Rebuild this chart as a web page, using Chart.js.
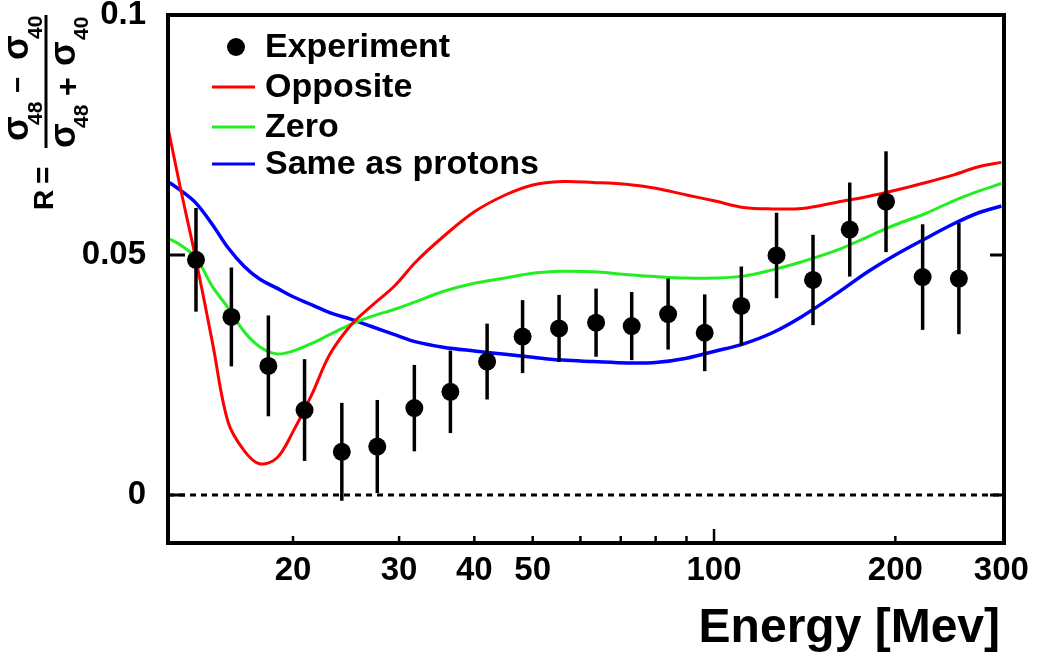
<!DOCTYPE html>
<html>
<head>
<meta charset="utf-8">
<script src="https://cdn.jsdelivr.net/npm/chart.js@4"></script>
<style>
  html, body { margin: 0; padding: 0; background: #fff; }
</style>
</head>
<body>
<canvas id="ratioChart" width="1037" height="658"></canvas>
<script>
// axis range
const xMin = 12.4;
const xMax = 303;
const yMin = -0.01;
const yMax = 0.1;
const xTickValues = [20, 30, 40, 50, 60, 70, 80, 90, 100, 200, 300];
const xTickLabels = { 20: "20", 30: "30", 40: "40", 50: "50", 100: "100", 200: "200", 300: "300" };
const yTickValues = [0, 0.05, 0.1];

// experiment points
const expEnergy = [13.8, 15.8, 18.2, 20.9, 24.1, 27.6, 31.8, 36.5, 42.0, 48.1, 55.3,
  63.7, 73.0, 83.9, 96.5, 111, 127, 146, 168, 193, 222, 255];
const expR = [0.049, 0.0371, 0.0269, 0.0177, 0.0090, 0.0101, 0.0181, 0.0215, 0.0278, 0.0330, 0.0347,
  0.0359, 0.0352, 0.0377, 0.0338, 0.0394, 0.0499, 0.0448, 0.0553, 0.0611, 0.0454, 0.0451];
const expErr = [0.0108, 0.0103, 0.0105, 0.0106, 0.0102, 0.0097, 0.009, 0.0086, 0.0079, 0.0076, 0.007,
  0.0071, 0.0071, 0.0074, 0.008, 0.0082, 0.0089, 0.0094, 0.0098, 0.0105, 0.011, 0.0116];

// model curves
const curveEnergy = [12.4, 13, 13.8, 14.7, 15.6, 16.6, 17.6, 18.8, 20, 21.5, 23, 25, 27, 29.5, 32, 35.5,
  40, 45, 50, 56, 63, 72, 80, 90, 100, 112, 125, 140, 160, 180, 200, 225, 250, 275, 300];
const opposite = [0.0765, 0.064, 0.049, 0.0317, 0.0152, 0.0092, 0.0065, 0.0077, 0.0132, 0.021, 0.0292,
  0.0355, 0.0394, 0.0436, 0.0486, 0.0538, 0.059, 0.0625, 0.0646, 0.0653, 0.0651, 0.0647, 0.0639,
  0.0625, 0.0613, 0.0599, 0.0596, 0.0597, 0.061, 0.0622, 0.0635, 0.0651, 0.0667, 0.0684, 0.0693];
const zero = [0.0535, 0.0521, 0.0494, 0.0434, 0.039, 0.034, 0.0309, 0.0294, 0.0300, 0.0316, 0.0334,
  0.0356, 0.0372, 0.0387, 0.0403, 0.0424, 0.0441, 0.0452, 0.0462, 0.0466, 0.0465, 0.0459, 0.0455,
  0.0452, 0.0452, 0.0456, 0.0469, 0.0486, 0.051, 0.0538, 0.0563, 0.0587, 0.0613, 0.0633, 0.0649];
const sameAsProtons = [0.0653, 0.0635, 0.0608, 0.0563, 0.0515, 0.0476, 0.0450, 0.0431, 0.0413, 0.0396,
  0.038, 0.0366, 0.0351, 0.0334, 0.0319, 0.0308, 0.03, 0.0293, 0.0287, 0.0281, 0.0278, 0.0275, 0.0276,
  0.0285, 0.0299, 0.0315, 0.0338, 0.0372, 0.042, 0.0465, 0.05, 0.0535, 0.0565, 0.0588, 0.0602];

const FONT = '"Liberation Sans", Arial, sans-serif';

function pts(xs, ys) {
  return xs.map((x, i) => ({ x: x, y: ys[i] }));
}

const errorBars = {
  id: "errorBars",
  afterDatasetsDraw(chart) {
    const ctx = chart.ctx;
    const xs = chart.scales.x, ys = chart.scales.y;
    ctx.save();
    ctx.strokeStyle = "#000";
    ctx.lineWidth = 3.5;
    expEnergy.forEach((e, i) => {
      const px = xs.getPixelForValue(e);
      ctx.beginPath();
      ctx.moveTo(px, ys.getPixelForValue(expR[i] - expErr[i]));
      ctx.lineTo(px, ys.getPixelForValue(expR[i] + expErr[i]));
      ctx.stroke();
    });
    ctx.restore();
  }
};

const frameAndText = {
  id: "frameAndText",
  afterDraw(chart) {
    const ctx = chart.ctx;
    const a = chart.chartArea;
    const xs = chart.scales.x, ys = chart.scales.y;
    ctx.save();
    ctx.strokeStyle = "#000";

    // inward ticks
    ctx.lineWidth = 2.5;
    xTickValues.forEach(v => {
      if (v >= 300) return;
      const px = xs.getPixelForValue(v);
      const len = v === 100 ? 14 : 7;
      ctx.beginPath();
      ctx.moveTo(px, a.bottom);
      ctx.lineTo(px, a.bottom - len);
      ctx.stroke();
    });
    ctx.lineWidth = 3;
    [0, 0.05].forEach(v => {
      const py = ys.getPixelForValue(v);
      ctx.beginPath();
      ctx.moveTo(a.left, py);
      ctx.lineTo(a.left + 17, py);
      ctx.moveTo(a.right, py);
      ctx.lineTo(a.right - 14, py);
      ctx.stroke();
    });

    // frame
    ctx.lineWidth = 4;
    ctx.strokeRect(a.left, a.top, a.right - a.left, a.bottom - a.top);

    // x title
    ctx.fillStyle = "#000";
    ctx.font = "bold 48px " + FONT;
    ctx.textAlign = "right";
    ctx.textBaseline = "alphabetic";
    ctx.fillText("Energy [Mev]", 1000, 642);

    // y title, rotated fraction
    ctx.translate(46, 215);
    ctx.rotate(-Math.PI / 2);
    ctx.textAlign = "left";
    ctx.font = "bold 28px " + FONT;
    ctx.fillText("R", 5, 7);
    ctx.font = "bold 30px " + FONT;
    ctx.fillText("=", 31, 7);
    const big = "bold 36px " + FONT, sub = "bold 21px " + FONT;
    // numerator
    ctx.font = big; ctx.fillText("σ", 74, -18);
    ctx.font = sub; ctx.fillText("48", 90, -4);
    ctx.font = "bold 28px " + FONT; ctx.fillText("−", 122, -19);
    ctx.font = big; ctx.fillText("σ", 155, -18);
    ctx.font = sub; ctx.fillText("40", 176, -4);
    // bar
    ctx.lineWidth = 3;
    ctx.beginPath();
    ctx.moveTo(67, 0);
    ctx.lineTo(200, 0);
    ctx.stroke();
    // denominator
    ctx.font = big; ctx.fillText("σ", 67, 29);
    ctx.font = sub; ctx.fillText("48", 87, 42);
    ctx.font = "bold 32px " + FONT; ctx.fillText("+", 119, 32);
    ctx.font = big; ctx.fillText("σ", 149, 29);
    ctx.font = sub; ctx.fillText("40", 175, 42);
    ctx.restore();

    // legend
    ctx.save();
    ctx.font = "bold 34px " + FONT;
    ctx.textBaseline = "middle";
    ctx.fillStyle = "#000";
    const rows = [47, 87, 127, 164];
    chart.data.datasets.filter(d => d.label).forEach((d, i) => {
      const y = rows[i];
      if (d.showLine === false) {
        ctx.beginPath();
        ctx.arc(236, y, 9, 0, Math.PI * 2);
        ctx.fillStyle = d.backgroundColor;
        ctx.fill();
      } else {
        ctx.strokeStyle = d.borderColor;
        ctx.lineWidth = 3;
        ctx.beginPath();
        ctx.moveTo(212, y);
        ctx.lineTo(255, y);
        ctx.stroke();
      }
      ctx.fillStyle = "#000";
      ctx.fillText(d.label, 265, y + 1);
    });
    ctx.restore();
  }
};

new Chart(document.getElementById("ratioChart"), {
  type: "scatter",
  data: {
    datasets: [
      {
        label: "Experiment",
        data: pts(expEnergy, expR),
        showLine: false,
        backgroundColor: "#000",
        borderColor: "#000",
        pointRadius: 9,
        pointBorderWidth: 0
      },
      {
        label: "Opposite",
        data: pts(curveEnergy, opposite),
        showLine: true,
        borderColor: "#ff0000",
        borderWidth: 3,
        pointRadius: 0,
        tension: 0.35
      },
      {
        label: "Zero",
        data: pts(curveEnergy, zero),
        showLine: true,
        borderColor: "#22ee22",
        borderWidth: 3,
        pointRadius: 0,
        tension: 0.35
      },
      {
        label: "Same as protons",
        data: pts(curveEnergy, sameAsProtons),
        showLine: true,
        borderColor: "#0000ff",
        borderWidth: 3.5,
        pointRadius: 0,
        tension: 0.35
      },
      {
        data: [{ x: xMin, y: 0 }, { x: xMax, y: 0 }],
        showLine: true,
        borderColor: "#000",
        borderWidth: 3,
        borderDash: [6, 5],
        pointRadius: 0
      }
    ]
  },
  options: {
    responsive: false,
    animation: false,
    layout: { padding: { top: 15, right: 33, left: 0, bottom: 0 } },
    plugins: { legend: { display: false }, tooltip: { enabled: false } },
    scales: {
      x: {
        type: "logarithmic",
        min: xMin,
        max: xMax,
        grid: { display: false, drawTicks: false },
        border: { display: false },
        afterBuildTicks: s => { s.ticks = xTickValues.map(v => ({ value: v })); },
        afterFit: s => { s.height = 115; s.paddingLeft = 0; s.paddingRight = 0; },
        ticks: {
          autoSkip: false,
          maxRotation: 0,
          padding: 8,
          color: "#000",
          font: { family: FONT, size: 33, weight: "bold" },
          callback: v => xTickLabels[v] || ""
        }
      },
      y: {
        min: yMin,
        max: yMax,
        grid: { display: false, drawTicks: false },
        border: { display: false },
        afterBuildTicks: s => { s.ticks = yTickValues.map(v => ({ value: v })); },
        afterFit: s => { s.width = 168; s.paddingTop = 0; s.paddingBottom = 0; },
        ticks: {
          padding: 22,
          color: "#000",
          font: { family: FONT, size: 33, weight: "bold" },
          callback: v => v === 0 ? "0" : String(v)
        }
      }
    }
  },
  plugins: [errorBars, frameAndText]
});
</script>
</body>
</html>
